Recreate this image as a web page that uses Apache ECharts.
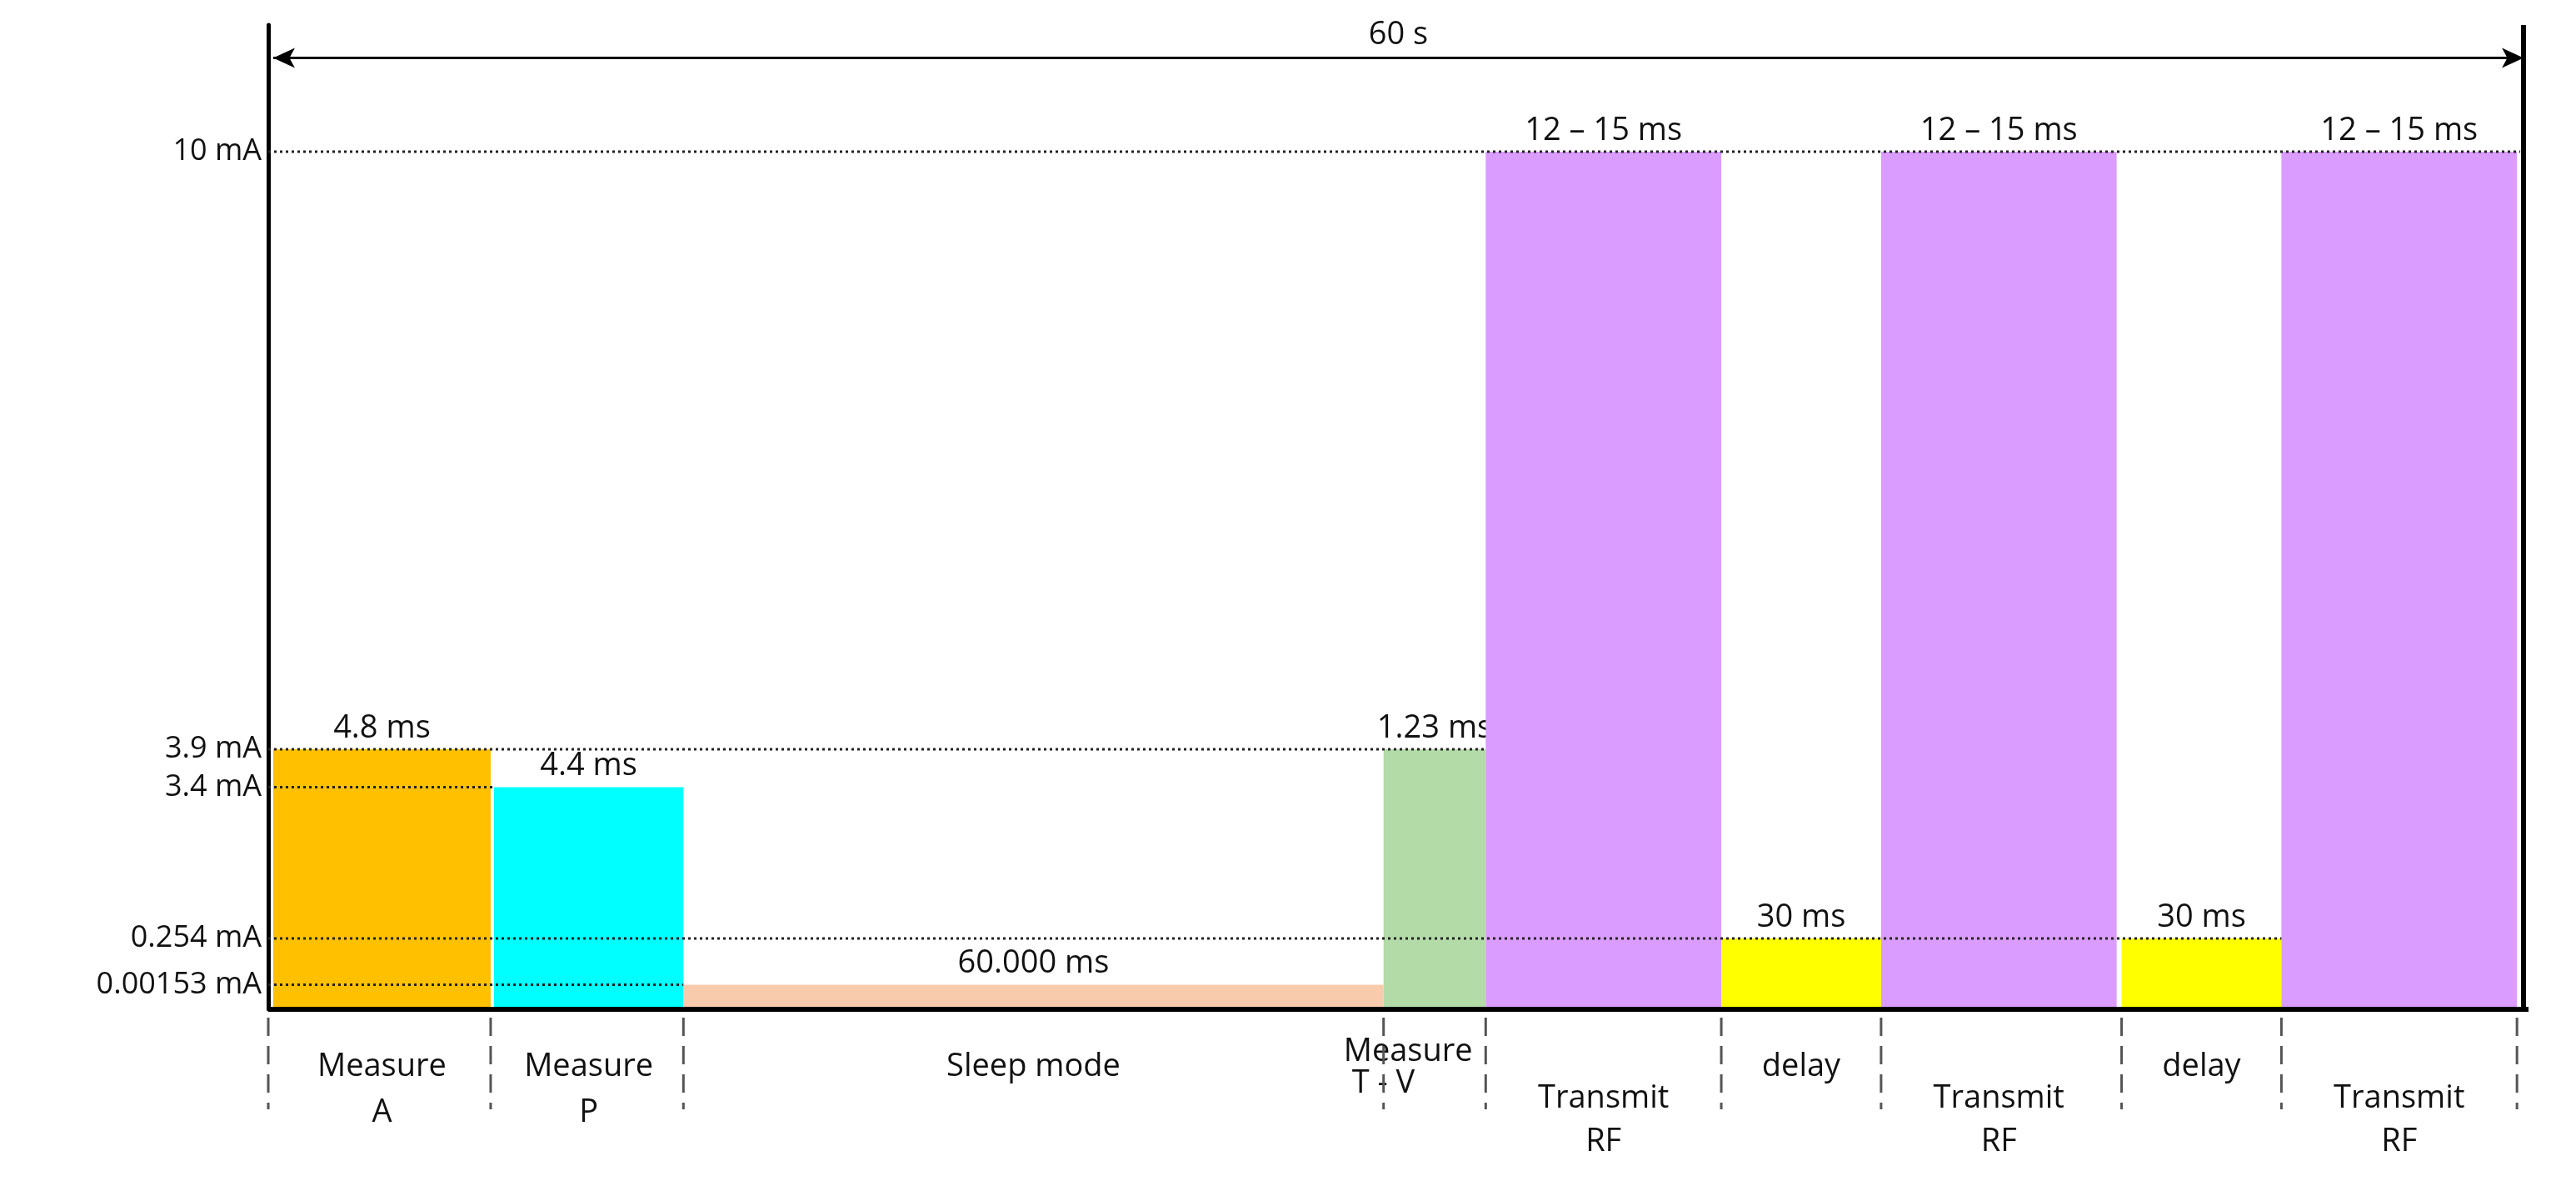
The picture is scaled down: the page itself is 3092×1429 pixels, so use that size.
<!DOCTYPE html>
<html>
<head>
<meta charset="UTF-8">
<script src="https://cdn.jsdelivr.net/npm/echarts@6/dist/echarts.min.js"></script>
<style>html,body{margin:0;background:#fff}#c{width:3092px;height:1429px}</style>
</head>
<body>
<div id="c"></div>
<script>
// schematic timeline (display units, not to scale)
var segNames  = ['Measure\nA', 'Measure\nP', 'Sleep mode', 'Measure\nT - V', 'Transmit\nRF', 'delay', 'Transmit\nRF', 'delay', 'Transmit\nRF'];
var segStart  = [3, 137, 252, 677, 739, 882, 979, 1125, 1222];
var segEnd    = [135, 252, 677, 739, 882, 979, 1122, 1222, 1365];
var segLevel  = [158, 135, 15, 158, 521, 43, 521, 43, 521];
var segTime   = ['4.8 ms', '4.4 ms', '60.000 ms', '1.23 ms', '12 – 15 ms', '30 ms', '12 – 15 ms', '30 ms', '12 – 15 ms'];
var segColor  = ['#FFC000', '#00FFFF', '#F8CBAD', '#B3DBA8', '#DA9CFF', '#FFFF00', '#DA9CFF', '#FFFF00', '#DA9CFF'];
var tickLevels = [15, 43, 135, 158, 521];
var tickLabels = ['0.00153 mA', '0.254 mA', '3.4 mA', '3.9 mA', '10 mA'];
var refLineEnd = [415, 1385, 300, 902, 1530]; // dotted guide ends (original px)
var boundaries = [0, 135, 252, 677, 739, 882, 979, 1125, 1222, 1365];

var font = 'Open Sans';
var chart = echarts.init(document.getElementById('c'));

var segData = segStart.map(function (s, i) { return [s, segEnd[i], segLevel[i], i]; });

chart.setOption({
    animation: false,
    grid: {left: 322, right: 57, top: 30, bottom: 218},
    xAxis: {type: 'value', min: 0, max: 1372, show: false},
    yAxis: {
        type: 'value', min: 0, max: 598,
        axisLine: {show: true, lineStyle: {color: '#000', width: 5}},
        axisTick: {show: false},
        splitLine: {show: false},
        axisLabel: {customValues: tickLevels, fontFamily: font, fontSize: 36, color: '#111', margin: 8,
            formatter: function (v) { return tickLabels[tickLevels.indexOf(v)]; }}
    },
    series: [{
        type: 'custom',
        data: segData,
        renderItem: function (params, api) {
            var i = api.value(3);
            var p0 = api.coord([api.value(0), api.value(2)]);
            var p1 = api.coord([api.value(1), 0]);
            var cx = (p0[0] + p1[0]) / 2;
            var lines = segNames[i].split('\n');
            var children = [
                {type: 'rect', shape: {x: p0[0], y: p0[1], width: p1[0] - p0[0], height: p1[1] - p0[1]}, style: {fill: segColor[i]}},
                {type: 'text', x: cx, y: p0[1] - 6, style: {text: segTime[i], font: '38px "' + font + '"', fill: '#111', align: 'center', verticalAlign: 'bottom'}}
            ];
            var tx = i === 3 ? 'left' : 'center';
            var ox = i === 3 ? p0[0] - 52 : cx;
            var lineY = lines[0] === 'Transmit' ? [1318, 1370] : (i === 3 ? [1262, 1300] : [1280, 1335]);
            lines.forEach(function (t, k) {
                children.push({type: 'text', x: i === 3 ? p0[0] - 48 + (k ? 10 : 0) : cx, y: lineY[k],
                    style: {text: t, font: '38px "' + font + '"', fill: '#111', align: i === 3 ? 'left' : 'center', verticalAlign: 'middle'}});
            });
            return {type: 'group', children: children};
        }
    }, {
        type: 'custom',
        data: tickLevels.map(function (v, i) { return [v, refLineEnd[i] - 163]; }),
        z: 5,
        renderItem: function (params, api) {
            var a = api.coord([0, api.value(0)]);
            var b = api.coord([api.value(1), api.value(0)]);
            return {type: 'line', shape: {x1: a[0], y1: a[1], x2: b[0], y2: b[1]}, style: {stroke: '#222', lineWidth: 3, lineDash: [3, 4]}};
        }
    }, {
        type: 'custom',
        data: boundaries.map(function (b) { return [b]; }),
        renderItem: function (params, api) {
            var a = api.coord([api.value(0), 0]);
            return {type: 'line', shape: {x1: a[0], y1: a[1] + 10, x2: a[0], y2: a[1] + 120}, style: {stroke: '#555', lineWidth: 3, lineDash: [22, 12]}};
        }
    }, {
        type: 'line',
        data: [],
        markLine: {
            silent: true, symbol: ['arrow', 'arrow'], symbolSize: [18, 26],
            lineStyle: {color: '#000', width: 3, type: 'solid'},
            label: {show: true, position: 'middle', formatter: '60 s', fontFamily: font, fontSize: 38, color: '#111', distance: 8},
            data: [[{coord: [3, 578]}, {coord: [1369, 578]}]]
        }
    }, {
        type: 'line',
        data: [],
        markLine: {
            silent: true, symbol: 'none',
            lineStyle: {color: '#000', width: 6, type: 'solid'},
            label: {show: false},
            data: [[{coord: [0, 0]}, {coord: [1372, 0]}], [{coord: [1369, 0]}, {coord: [1369, 598]}]]
        }
    }]
});
</script>
</body>
</html>
